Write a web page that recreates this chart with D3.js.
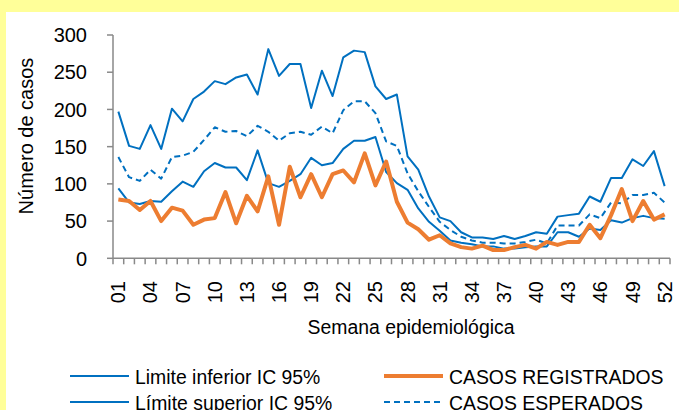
<!DOCTYPE html>
<html>
<head>
<meta charset="utf-8">
<script src="https://cdn.jsdelivr.net/npm/d3@7"></script>
<style>
    body { margin: 0; padding: 0; background: #ffff99; }
    svg text { font-family: "Liberation Sans", Arial, sans-serif; fill: #000; }
</style>
</head>
<body>
<div id="chart"></div>
<script>
// semanas epidemiologicas
var weeks = ['01', '02', '03', '04', '05', '06', '07', '08', '09', '10', '11', '12', '13',
    '14', '15', '16', '17', '18', '19', '20', '21', '22', '23', '24', '25', '26',
    '27', '28', '29', '30', '31', '32', '33', '34', '35', '36', '37', '38', '39',
    '40', '41', '42', '43', '44', '45', '46', '47', '48', '49', '50', '51', '52'];
var weekLabels = ['01', '04', '07', '10', '13', '16', '19', '22', '25', '28', '31', '34', '37',
    '40', '43', '46', '49', '52'];

var limInferior = [94, 75, 73, 77, 76, 90, 103, 96, 117, 128, 122, 122, 105,
    145, 101, 96, 104, 113, 135, 125, 128, 147, 158, 158, 163, 116,
    101, 92, 67, 49, 37, 24, 21, 19, 16, 16, 13, 13, 15,
    16, 16, 35, 35, 29, 40, 38, 51, 48, 54, 57, 54, 53];
var limSuperior = [197, 151, 147, 179, 147, 201, 184, 214, 224, 238, 234, 243, 247,
    220, 281, 245, 261, 261, 202, 252, 218, 270, 279, 277, 231, 214,
    220, 137, 119, 83, 55, 50, 35, 28, 28, 26, 30, 26, 30,
    35, 33, 56, 58, 60, 83, 76, 108, 108, 133, 124, 144, 97];
var casosRegistrados = [79, 77, 65, 77, 50, 68, 64, 45, 52, 54, 89, 47, 84,
    63, 110, 45, 123, 82, 113, 82, 113, 118, 102, 141, 98, 130,
    76, 48, 39, 25, 31, 20, 15, 13, 17, 11, 11, 15, 18,
    13, 22, 18, 22, 22, 45, 27, 58, 93, 50, 77, 52, 59];
var casosEsperados = [136, 109, 104, 119, 107, 136, 138, 143, 159, 176, 170, 171, 164,
    178, 170, 158, 168, 170, 166, 177, 168, 199, 211, 211, 195, 157,
    151, 114, 90, 69, 49, 38, 29, 24, 21, 21, 20, 20, 22,
    25, 20, 44, 44, 44, 59, 54, 75, 74, 85, 85, 88, 75];
var yTicks = [0, 50, 100, 150, 200, 250, 300];

var blue = '#0070c0', orange = '#ed7d31', axisColor = '#898989';
var width = 679, height = 410;
var plotLeft = 113, plotRight = 670, plotTop = 35, plotBottom = 258.3;

var svg = d3.select('#chart').append('svg')
    .attr('width', width)
    .attr('height', height);

svg.append('rect').attr('width', width).attr('height', height).attr('fill', '#ffff99');
svg.append('rect').attr('x', 6).attr('y', 12)
    .attr('width', width - 6).attr('height', height - 12).attr('fill', '#fff');

var x = d3.scaleBand().domain(weeks).range([plotLeft, plotRight]).padding(0);
var y = d3.scaleLinear().domain([0, 300]).range([plotBottom, plotTop]);
var cx = function (w) { return x(w) + x.bandwidth() / 2; };

// eje y
svg.append('line')
    .attr('x1', plotLeft).attr('x2', plotLeft)
    .attr('y1', y(300)).attr('y2', y(0))
    .attr('stroke', axisColor).attr('stroke-width', 1.5);
svg.selectAll('.ytick').data(yTicks).enter().append('line')
    .attr('x1', plotLeft - 6).attr('x2', plotLeft)
    .attr('y1', function (d) { return y(d); })
    .attr('y2', function (d) { return y(d); })
    .attr('stroke', axisColor).attr('stroke-width', 1.5);
svg.selectAll('.ylabel').data(yTicks).enter().append('text')
    .attr('x', 87)
    .attr('y', function (d) { return y(d); })
    .attr('dy', '0.36em')
    .style('text-anchor', 'end')
    .style('font-size', '20px')
    .text(function (d) { return d; });

// eje x, marcas entre categorias
svg.append('line')
    .attr('x1', plotLeft).attr('x2', plotRight)
    .attr('y1', y(0)).attr('y2', y(0))
    .attr('stroke', axisColor).attr('stroke-width', 1.5);
svg.selectAll('.xtick').data(weeks.concat(['end'])).enter().append('line')
    .attr('x1', function (d, i) { return i < weeks.length ? x(d) : plotRight; })
    .attr('x2', function (d, i) { return i < weeks.length ? x(d) : plotRight; })
    .attr('y1', y(0)).attr('y2', y(0) + 6)
    .attr('stroke', axisColor).attr('stroke-width', 1.5);
svg.selectAll('.xlabel').data(weekLabels).enter().append('text')
    .attr('transform', function (d) {
        return 'translate(' + (cx(d) + 7) + ',' + 281 + ') rotate(-90)';
    })
    .style('text-anchor', 'end')
    .style('font-size', '20px')
    .text(function (d) { return d; });

// titulos
svg.append('text')
    .attr('transform', 'translate(33,136) rotate(-90)')
    .style('text-anchor', 'middle')
    .style('font-size', '20px')
    .text('Número de casos');
svg.append('text')
    .attr('x', 411).attr('y', 334)
    .style('text-anchor', 'middle')
    .style('font-size', '19.4px')
    .text('Semana epidemiológica');

// series
var series = [
    { values: limInferior, color: blue, w: 2, dash: null },
    { values: limSuperior, color: blue, w: 2, dash: null },
    { values: casosEsperados, color: blue, w: 2, dash: '6,4' },
    { values: casosRegistrados, color: orange, w: 4, dash: null }
];
var line = d3.line()
    .x(function (d, i) { return cx(weeks[i]); })
    .y(function (d) { return y(d); });
svg.selectAll('.serie').data(series).enter().append('path')
    .attr('d', function (s) { return line(s.values); })
    .attr('fill', 'none')
    .attr('stroke', function (s) { return s.color; })
    .attr('stroke-width', function (s) { return s.w; })
    .attr('stroke-dasharray', function (s) { return s.dash; })
    .attr('stroke-linejoin', 'round');

// leyenda
var legend = [
    { label: 'Limite inferior IC 95%', color: blue, w: 2, dash: null, lx: 70, ly: 376 },
    { label: 'Límite superior IC 95%', color: blue, w: 2, dash: null, lx: 70, ly: 402 },
    { label: 'CASOS REGISTRADOS', color: orange, w: 4, dash: null, lx: 384, ly: 376 },
    { label: 'CASOS ESPERADOS', color: blue, w: 2, dash: '6,4', lx: 384, ly: 402 }
];
var items = svg.selectAll('.legend').data(legend).enter().append('g')
    .attr('transform', function (d) { return 'translate(' + d.lx + ',' + d.ly + ')'; });
items.append('line')
    .attr('x1', 0).attr('x2', 59)
    .attr('stroke', function (d) { return d.color; })
    .attr('stroke-width', function (d) { return d.w; })
    .attr('stroke-dasharray', function (d) { return d.dash; });
items.append('text')
    .attr('x', 65).attr('y', 8)
    .style('font-size', '19.4px')
    .text(function (d) { return d.label; });
</script>
</body>
</html>
